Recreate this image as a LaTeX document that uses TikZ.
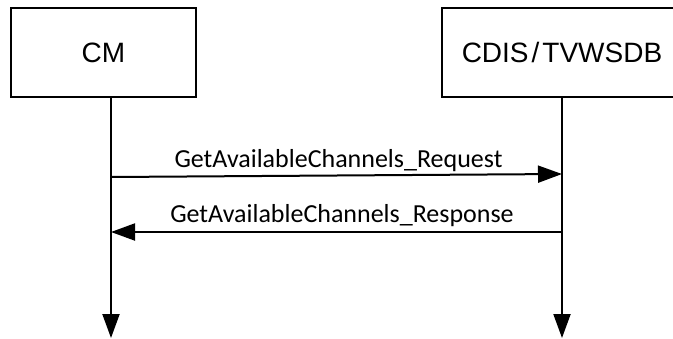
\documentclass[tikz,border=0pt]{standalone}
\usepackage{fontspec}
\usetikzlibrary{arrows.meta}
\newfontfamily\boxfont{Liberation Sans}
\newfontfamily\msgfont{Carlito}
\begin{document}
\begin{tikzpicture}[x=1pt,y=-1pt,
  entity/.style={draw, line width=1.6pt, rectangle, inner sep=0pt,
    minimum height=89pt, font=\boxfont\fontsize{28}{32}\selectfont},
  lifeline/.style={line width=2pt, -{Triangle[length=24pt,width=17pt]}},
  message/.style={line width=2pt, -{Triangle[length=24pt,width=17pt]}},
  msglabel/.style={anchor=base, inner sep=0pt, font=\msgfont\fontsize{26}{30}\selectfont}]
  \useasboundingbox (0,0) rectangle (673,338);
  \clip (0,0) rectangle (673,338);
  \fill[white] (0,0) rectangle (673,338);

  % participants
  \node[entity, minimum width=185pt] (cm) at (103.5,52.5) {CM};
  \node[entity, minimum width=240pt] (db) at (562,52.5) {CDIS\kern3pt/\kern3pt TVWSDB};

  % lifeline anchors
  \coordinate (cmtop) at (111,97);
  \coordinate (cmend) at (111,338);
  \coordinate (dbtop) at (562,97);
  \coordinate (dbend) at (562,338);
  \coordinate (reqfrom) at (111,177);
  \coordinate (reqto) at (562,174);
  \coordinate (resfrom) at (562,232);
  \coordinate (resto) at (111,232);

  \draw[lifeline] (cmtop) -- (cmend);
  \draw[lifeline] (dbtop) -- (dbend);

  % messages
  \draw[message] (reqfrom) -- (reqto);
  \draw[message] (resfrom) -- (resto);
  \node[msglabel] (reqlbl) at (338.5,167) {GetAvailableChannels\_Request};
  \node[msglabel] (reslbl) at (342,222) {GetAvailableChannels\_Response};
\end{tikzpicture}
\end{document}
